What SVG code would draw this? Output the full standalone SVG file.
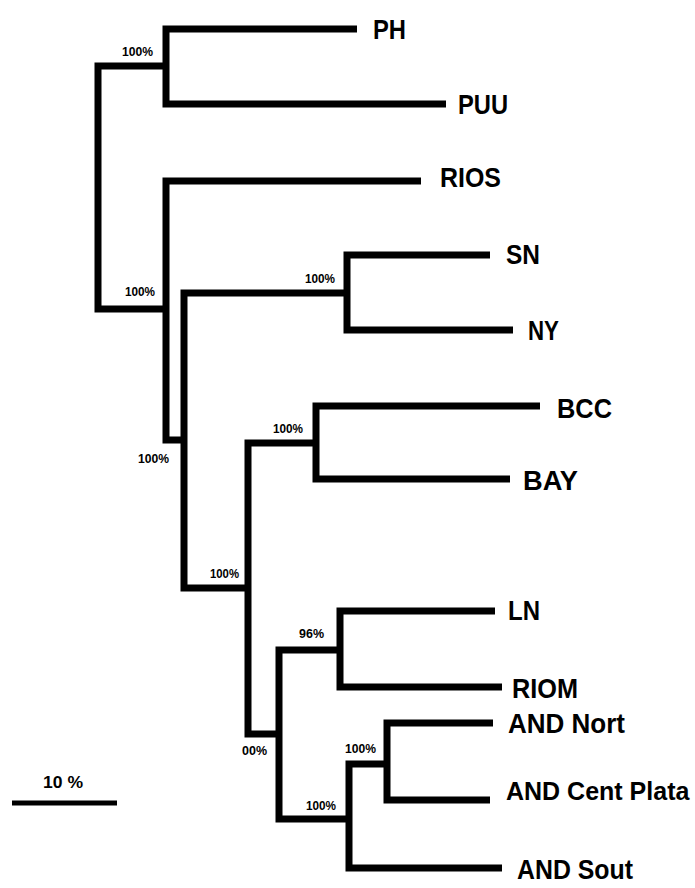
<svg xmlns="http://www.w3.org/2000/svg" width="695" height="888" viewBox="0 0 695 888">
<style>
.br{fill:none;stroke:#000;stroke-width:7;stroke-linejoin:miter;stroke-linecap:butt}
.tx{font-family:"Liberation Sans",Arial,sans-serif;font-weight:bold;font-size:28px;fill:#000}
.bs{font-family:"Liberation Sans",Arial,sans-serif;font-weight:bold;font-size:12px;fill:#000}
</style>
<rect width="695" height="888" fill="#fff"/>
<g id="connectors">
<path class="br" d="M166,66 H98 V309 H166"/>
<path class="br" d="M357,29 H166 V104 H446"/>
<path class="br" d="M421,181 H166 V440 H184"/>
<path class="br" d="M347,293 H184 V588 H248"/>
<path class="br" d="M490,255 H347 V330 H513"/>
<path class="br" d="M316,443 H248 V734 H279"/>
<path class="br" d="M540,406 H316 V479 H510"/>
<path class="br" d="M340,650 H279 V819 H349"/>
<path class="br" d="M495,611 H340 V687 H502"/>
<path class="br" d="M387,764 H349 V868 H502"/>
<path class="br" d="M493,723 H387 V800 H490"/>
</g>
<g id="bootstrap">
<text class="bs" x="122" y="56" textLength="31" lengthAdjust="spacingAndGlyphs">100%</text>
<text class="bs" x="125" y="296" textLength="30" lengthAdjust="spacingAndGlyphs">100%</text>
<text class="bs" x="305" y="283" textLength="30" lengthAdjust="spacingAndGlyphs">100%</text>
<text class="bs" x="138" y="463" textLength="31" lengthAdjust="spacingAndGlyphs">100%</text>
<text class="bs" x="273" y="433" textLength="30" lengthAdjust="spacingAndGlyphs">100%</text>
<text class="bs" x="210" y="578" textLength="29" lengthAdjust="spacingAndGlyphs">100%</text>
<text class="bs" x="299" y="638" textLength="25" lengthAdjust="spacingAndGlyphs">96%</text>
<text class="bs" x="242" y="755" textLength="25" lengthAdjust="spacingAndGlyphs">00%</text>
<text class="bs" x="345" y="753" textLength="31" lengthAdjust="spacingAndGlyphs">100%</text>
<text class="bs" x="306" y="810" textLength="30" lengthAdjust="spacingAndGlyphs">100%</text>
</g>
<g id="node-PH"><text class="tx" x="373" y="39" textLength="33" lengthAdjust="spacingAndGlyphs">PH</text></g>
<g id="node-PUU"><text class="tx" x="458" y="114" textLength="50" lengthAdjust="spacingAndGlyphs">PUU</text></g>
<g id="node-RIOS"><text class="tx" x="440" y="187" textLength="61" lengthAdjust="spacingAndGlyphs">RIOS</text></g>
<g id="node-SN"><text class="tx" x="506" y="264" textLength="34" lengthAdjust="spacingAndGlyphs">SN</text></g>
<g id="node-NY"><text class="tx" x="528" y="340" textLength="31" lengthAdjust="spacingAndGlyphs">NY</text></g>
<g id="node-BCC"><text class="tx" x="557" y="418" textLength="55" lengthAdjust="spacingAndGlyphs">BCC</text></g>
<g id="node-BAY"><text class="tx" x="523" y="490" textLength="55" lengthAdjust="spacingAndGlyphs">BAY</text></g>
<g id="node-LN"><text class="tx" x="508" y="620" textLength="32" lengthAdjust="spacingAndGlyphs">LN</text></g>
<g id="node-RIOM"><text class="tx" x="512" y="698" textLength="66" lengthAdjust="spacingAndGlyphs">RIOM</text></g>
<g id="node-AND-Nort"><text class="tx" x="508" y="733" textLength="117" lengthAdjust="spacingAndGlyphs">AND Nort</text></g>
<g id="node-AND-Cent-Plata"><text class="tx" x="506" y="800" style="font-size:25px">AND Cent Plata</text></g>
<g id="node-AND-Sout"><text class="tx" x="517" y="879" textLength="116" lengthAdjust="spacingAndGlyphs">AND Sout</text></g>
<g id="scale">
<line x1="12" y1="803" x2="117" y2="803" stroke="#000" stroke-width="5"/>
<text x="43" y="788" font-family="Liberation Sans, Arial, sans-serif" font-weight="bold" font-size="17" textLength="40" lengthAdjust="spacingAndGlyphs">10 %</text>
</g>
</svg>
